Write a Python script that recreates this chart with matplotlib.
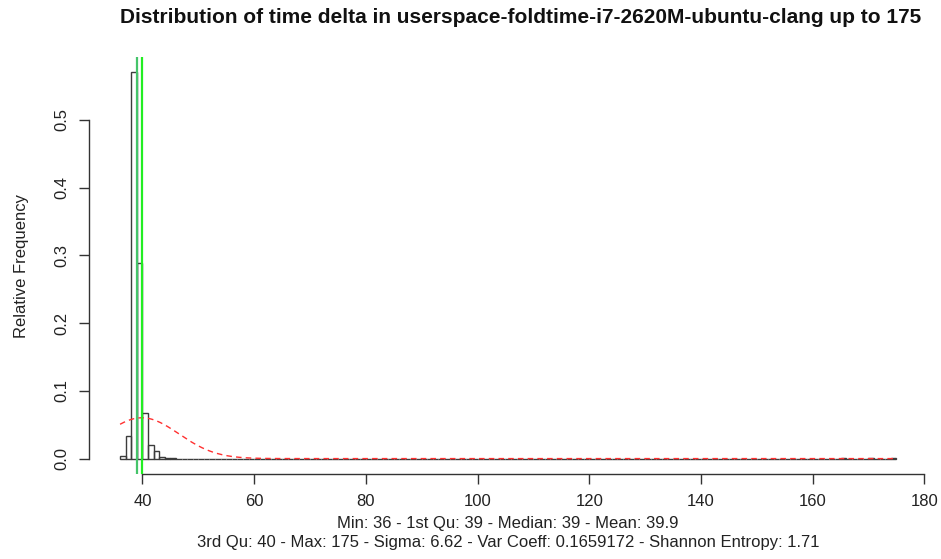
import numpy as np
import matplotlib
matplotlib.use("Agg")
import matplotlib.pyplot as plt

plt.rcParams["font.family"] = ["Liberation Sans", "DejaVu Sans"]

# Relative frequency per unit-width bin (time delta), bins [36,37) ... [174,175]
bin_start = 36
bin_stop = 175
head_freq = [0.004, 0.034, 0.570, 0.288, 0.067, 0.020, 0.011, 0.003, 0.001, 0.0005]
outlier_bins = [165, 170, 174]
outlier_freq = [0.0006, 0.0005, 0.0003]

# Summary statistics
stat_min = 36
stat_q1 = 39
stat_median = 39
stat_mean = 39.9
stat_q3 = 40
stat_max = 175
stat_sigma = 6.62
var_coeff = "0.1659172"
entropy = 1.71

x_ticks = [40, 60, 80, 100, 120, 140, 160, 180]
y_ticks = [0.0, 0.1, 0.2, 0.3, 0.4, 0.5]

lefts = np.arange(bin_start, bin_stop)
freqs = np.zeros(len(lefts))
freqs[:len(head_freq)] = head_freq
for b, f in zip(outlier_bins, outlier_freq):
    freqs[b - bin_start] = f

fig = plt.figure(figsize=(9.41, 5.59), dpi=100)
ax = fig.add_axes([0.0946, 0.152, 0.891, 0.746])

ax.bar(lefts, freqs, width=1, align="edge", fill=False,
       edgecolor="#3c3c3c", linewidth=1.0, zorder=2)

# fitted normal density
xs = np.linspace(stat_min, stat_max, 600)
dens = np.exp(-0.5 * ((xs - stat_mean) / stat_sigma) ** 2) / (stat_sigma * np.sqrt(2 * np.pi))
ax.plot(xs, dens, color="#ff3030", linestyle=(0, (4, 3)), linewidth=1.0, zorder=3)

ax.axvline(stat_median, color="#45c46a", linewidth=1.6, zorder=4)
ax.axvline(stat_mean - 0.15, color="#ff7070", linewidth=0.7, zorder=4)
ax.axvline(stat_q3, color="#22ee22", linewidth=1.6, zorder=4)

span = stat_max - stat_min
ax.set_xlim(stat_min - 0.04 * span, stat_max + 0.04 * span)
ytop = max(freqs)
ax.set_ylim(-0.04 * ytop, ytop * 1.04)

for s in ["top", "right"]:
    ax.spines[s].set_visible(False)
ax.spines["bottom"].set_bounds(x_ticks[0], x_ticks[-1])
ax.spines["left"].set_bounds(y_ticks[0], y_ticks[-1])
for s in ["bottom", "left"]:
    ax.spines[s].set_color("#333333")
    ax.spines[s].set_linewidth(1.0)

ax.set_xticks(x_ticks)
ax.set_yticks(y_ticks)
ax.set_xticklabels([str(v) for v in x_ticks])
ax.set_yticklabels([f"{v:.1f}" for v in y_ticks], rotation=90, va="center")
ax.tick_params(axis="both", length=7.5, width=1.0, color="#333333",
               labelsize=12, labelcolor="#222222", pad=7)

ax.set_ylabel("Relative Frequency", fontsize=12, labelpad=18, color="#222222")

fig.text(0.553, 0.968, "Distribution of time delta in userspace-foldtime-i7-2620M-ubuntu-clang up to 175",
         ha="center", va="center", fontsize=15, fontweight="bold", color="#111111")

cx = 0.0946 + 0.891 / 2
fig.text(cx, 0.064,
         f"Min: {stat_min} - 1st Qu: {stat_q1} - Median: {stat_median} - Mean: {stat_mean}",
         ha="center", va="center", fontsize=12, color="#222222")
fig.text(cx, 0.030,
         f"3rd Qu: {stat_q3} - Max: {stat_max} - Sigma: {stat_sigma} - Var Coeff: {var_coeff} - Shannon Entropy: {entropy}",
         ha="center", va="center", fontsize=12, color="#222222")

fig.savefig("out.png", dpi=100, facecolor="white")
